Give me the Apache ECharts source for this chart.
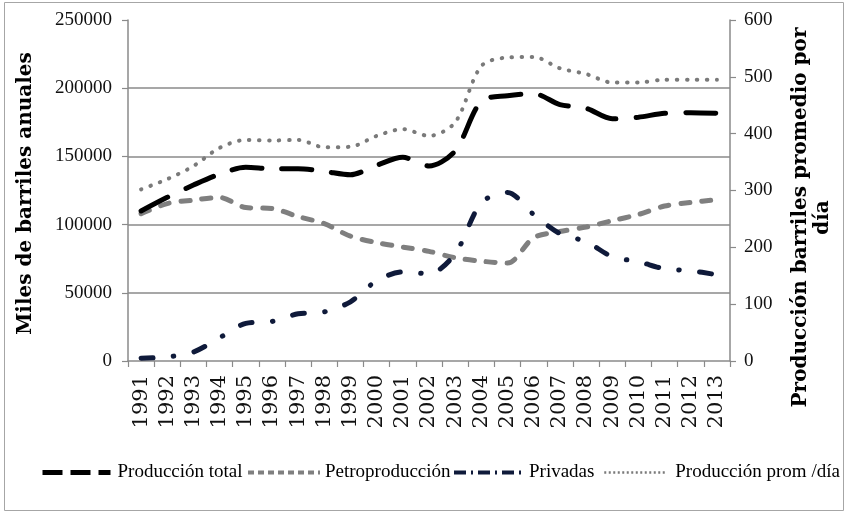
<!DOCTYPE html>
<html>
<head>
<meta charset="utf-8">
<script src="https://cdn.jsdelivr.net/npm/echarts@6/dist/echarts.min.js"></script>
<style>
html,body{margin:0;padding:0;background:#fff;}
#c{width:848px;height:513px;}
</style>
</head>
<body>
<div id="c"></div>
<script>
const years = ['1991','1992','1993','1994','1995','1996','1997','1998','1999','2000','2001','2002','2003','2004','2005','2006','2007','2008','2009','2010','2011','2012','2013'];
const produccionTotal = [110000,120000,129000,137000,142000,141000,141000,139000,136500,143500,149300,143000,154000,190500,194500,196000,188000,185300,177600,178700,181600,182000,181600];
const petroproduccion = [108000,115400,118000,119900,112500,111800,105900,100700,91500,86800,83500,80400,75700,73200,71800,90400,94900,98200,102900,107400,113600,116200,118400];
const privadas = [2000,3000,6600,17000,27600,29000,34600,36000,43400,58800,65400,64000,78700,116000,123500,107400,93400,87500,76500,72800,67600,66200,63200];
const promDia = [302,320,343,375,389,388,389,376,377,396,408,396,420,519,534,535,515,505,490,490,495,495,495];
const seriesNames = ['Producción total','Petroproducción','Privadas','Producción prom /día'];

const serif = "'Liberation Serif','Times New Roman',serif";
const axisGray = '#8a8a8a';

function mkLegend(name, left, width, ls, textPad){
  return {
    left:left, top:463, padding:0,
    itemWidth:width, itemHeight:12, itemGap:0,
    textStyle:{fontFamily:serif,fontSize:19,color:'#000',padding:[0,0,0,textPad]},
    itemStyle:{opacity:0,borderWidth:0},
    lineStyle:ls,
    data:[name]
  };
}

const chart = echarts.init(document.getElementById('c'), null, {renderer:'canvas'});
chart.setOption({
  animation:false,
  backgroundColor:'#ffffff',
  grid:{left:128,right:118,top:20,bottom:152,containLabel:false,outerBoundsMode:'none'},
  graphic:[{
    type:'rect',
    shape:{x:4.5,y:2.5,width:839,height:508},
    style:{fill:'none',stroke:'#a6a6a6',lineWidth:1},
    silent:true
  }],
  legend:[
    mkLegend(seriesNames[0],40,68,{color:'#000',width:5,type:[20,8],cap:'butt'},2),
    mkLegend(seriesNames[1],246,72,{color:'#7f7f7f',width:4,type:[6,4],cap:'butt'},0),
    mkLegend(seriesNames[2],452,68,{color:'#0f1a3a',width:4,type:[12,5,2,5],cap:'butt'},2),
    mkLegend(seriesNames[3],603,62,{color:'#7a7a7a',width:2.5,type:[2,2.5],cap:'butt'},4)
  ],
  xAxis:{
    type:'category',
    data:years,
    boundaryGap:true,
    axisLine:{lineStyle:{color:axisGray,width:1.5}},
    axisTick:{show:true,alignWithLabel:false,length:6,lineStyle:{color:axisGray,width:1.2}},
    axisLabel:{rotate:90,interval:0,margin:14,fontFamily:"'DejaVu Serif',serif",fontSize:21,color:'#111'},
    splitLine:{show:false}
  },
  yAxis:[{
    type:'value',
    min:0,max:250000,interval:50000,
    name:'Miles de barriles anuales',
    nameLocation:'middle',
    nameRotate:90,
    nameGap:92,
    nameTextStyle:{fontFamily:"'DejaVu Serif',serif",fontWeight:'bold',fontSize:20,color:'#000',padding:[0,6,0,0]},
    axisLine:{show:true,lineStyle:{color:axisGray,width:1.5}},
    axisTick:{show:true,length:6,lineStyle:{color:axisGray,width:1.2}},
    axisLabel:{margin:16,fontFamily:serif,fontSize:19,color:'#111',formatter:v=>String(v)},
    splitLine:{show:true,showMaxLine:false,showMinLine:false,lineStyle:{color:axisGray,width:1.5}}
  },{
    type:'value',
    min:0,max:600,interval:100,
    position:'right',
    name:'Producción barriles promedio por\ndía',
    nameLocation:'middle',
    nameRotate:90,
    nameGap:60,
    nameTextStyle:{fontFamily:"'DejaVu Serif',serif",fontWeight:'bold',fontSize:20,color:'#000',lineHeight:22,padding:[0,54,0,0]},
    axisLine:{show:true,lineStyle:{color:axisGray,width:1.5}},
    axisTick:{show:true,length:6,lineStyle:{color:axisGray,width:1.2}},
    axisLabel:{margin:14,fontFamily:serif,fontSize:19,color:'#111'},
    splitLine:{show:false}
  }],
  series:[{
    name:seriesNames[0],type:'line',yAxisIndex:0,data:produccionTotal,
    showSymbol:false,symbol:'none',smooth:0.3,
    lineStyle:{color:'#000',width:5,type:[30,20],cap:'round'},
    itemStyle:{color:'#000'},
    z:4
  },{
    name:seriesNames[1],type:'line',yAxisIndex:0,data:petroproduccion,
    showSymbol:false,symbol:'none',smooth:0.3,
    lineStyle:{color:'#7f7f7f',width:5,type:[9,12],cap:'round'},
    itemStyle:{color:'#7f7f7f'},
    z:3
  },{
    name:seriesNames[2],type:'line',yAxisIndex:0,data:privadas,
    showSymbol:false,symbol:'none',smooth:0.3,
    lineStyle:{color:'#0f1a3a',width:5,type:[12,20.5,0.5,20.5],cap:'round'},
    itemStyle:{color:'#0f1a3a'},
    z:5
  },{
    name:seriesNames[3],type:'line',yAxisIndex:1,data:promDia,
    showSymbol:false,symbol:'none',smooth:0.3,
    lineStyle:{color:'#7a7a7a',width:4,type:[0.5,9.5],cap:'round'},
    itemStyle:{color:'#7a7a7a'},
    z:2
  }]
});
</script>
</body>
</html>
